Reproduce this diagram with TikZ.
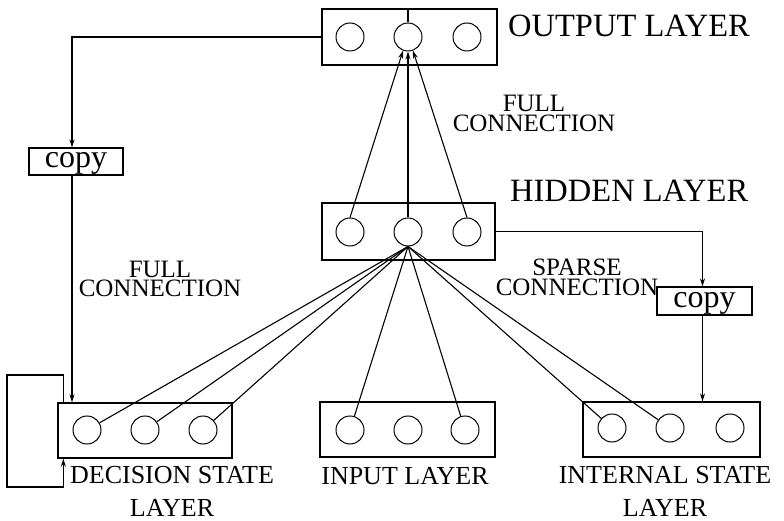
\documentclass[tikz,border=0pt]{standalone}
\usepackage{fontspec}
\setmainfont{Liberation Serif}
\usetikzlibrary{arrows.meta,calc}
\begin{document}
\begin{tikzpicture}[x=1pt,y=-1pt,
  layerbox/.style={draw,line width=1.3pt,minimum width=175pt,minimum height=56pt,inner sep=0pt},
  unit/.style={draw,circle,line width=1pt,minimum size=28pt,inner sep=0pt},
  copybox/.style={draw,line width=1.2pt,minimum width=94pt,minimum height=27pt,inner sep=0pt,text height=16pt,text depth=3pt,font=\fontsize{32}{34}\selectfont},
  conn/.style={line width=1.1pt},
  arr/.style={conn,-{Stealth[length=8pt,width=5pt]}},
  biglabel/.style={font=\fontsize{32.5}{34}\selectfont,inner sep=0pt,anchor=base west},
  connlabel/.style={font=\fontsize{25}{20}\selectfont,inner sep=0pt,align=center,anchor=base},
  botlabel/.style={font=\fontsize{26}{33}\selectfont,inner sep=0pt,align=center,anchor=base}]
\useasboundingbox (0,0) rectangle (784,521);

% layer boxes
\node[layerbox] (outbox) at (409.5,37) {};
\node[layerbox,minimum width=173pt,minimum height=57pt] (hidbox) at (408.5,231.5) {};
\node[layerbox,minimum width=174pt,minimum height=55pt] (decbox) at (145,430.5) {};
\node[layerbox,minimum height=55pt] (inpbox) at (407.5,429.5) {};
\node[layerbox,minimum width=177pt,minimum height=55pt] (intbox) at (671.5,429.5) {};

% units
\node[unit] (o1) at (350,37) {};
\node[unit] (o2) at (408,37) {};
\node[unit] (o3) at (467,37) {};
\node[unit] (h1) at (350,232) {};
\node[unit] (h2) at (408,232) {};
\node[unit] (h3) at (467,232) {};
\node[unit] (d1) at (87,430) {};
\node[unit] (d2) at (145,430) {};
\node[unit] (d3) at (203,430) {};
\node[unit] (i1) at (350,430) {};
\node[unit] (i2) at (408,430) {};
\node[unit] (i3) at (465,430) {};
\node[unit] (s1) at (612,428) {};
\node[unit] (s2) at (670,428) {};
\node[unit] (s3) at (730,428) {};

% copy boxes
\node[copybox] (copyL) at (76,161.5) {copy};
\node[copybox,minimum width=95pt,minimum height=28pt] (copyR) at (704.5,301) {copy};

% labels
\node[biglabel] (lout) at (508,37) {OUTPUT LAYER};
\node[biglabel] (lhid) at (510,202) {HIDDEN LAYER};
\node[connlabel] (lfull1) at (534,132) {FULL\\CONNECTION};
\node[connlabel] (lfull2) at (160,297) {FULL\\CONNECTION};
\node[connlabel] (lsparse) at (577,295) {SPARSE\\CONNECTION};
\node[botlabel] (ldec) at (172,516) {DECISION STATE\\LAYER};
\node[botlabel] (linp) at (405,484) {INPUT LAYER};
\node[botlabel] (lint) at (665,516) {INTERNAL STATE\\LAYER};

% hidden -> output
\draw[arr] (h1.north) -- (o2.250);
\draw[arr] (h2.north) -- (o2.south);
\draw[arr] (h3.north) -- (o2.290);
\draw[conn] (o2.north) -- (o2.north |- outbox.north);

% fan from hidden centre
\draw[conn] (h2.south) -- (d1);
\draw[conn] (h2.south) -- (d2);
\draw[conn] (h2.south) -- (d3);
\draw[conn] (h2.south) -- (i1);
\draw[conn] (h2.south) -- (i3);
\draw[conn] (h2.south) -- (s1);
\draw[conn] (h2.south) -- (s2);

% output -> copy -> decision state
\draw[arr] (outbox.west) -| ([xshift=-4pt]copyL.north);
\draw[arr] ([xshift=-4pt]copyL.south) -- ([xshift=-4pt]copyL.south |- decbox.north);

% decision state self loop
\coordinate (lpA) at (7,375);
\coordinate (lpB) at (7,487);
\draw[arr] ([xshift=6pt]decbox.north west) |- (lpA) -- (lpB) -| ([xshift=6pt]decbox.south west);

% hidden -> copy -> internal state
\draw[arr] (hidbox.east) -| ([xshift=-2pt]copyR.north);
\draw[arr] ([xshift=-2pt]copyR.south) -- ([xshift=-2pt]copyR.south |- intbox.north);
\end{tikzpicture}
\end{document}
